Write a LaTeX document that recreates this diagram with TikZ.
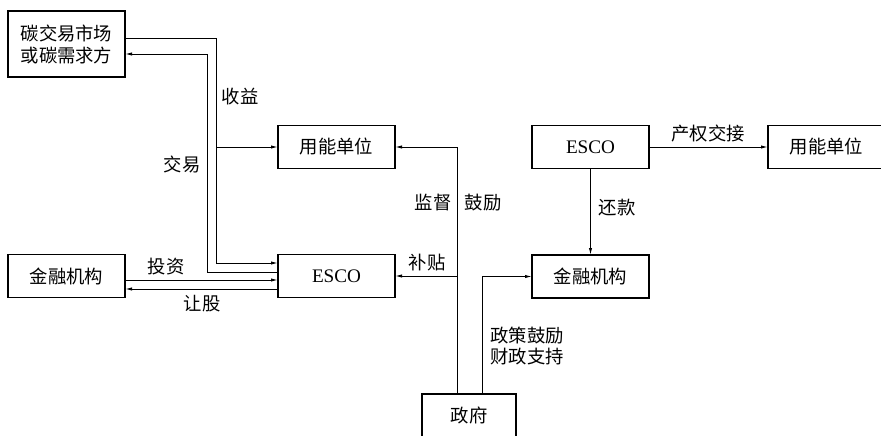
\documentclass[tikz,border=0pt]{standalone}
\usepackage{fontspec}
\setmainfont{Noto Sans CJK SC}
\newfontfamily\latinfont{Liberation Serif}
\usetikzlibrary{arrows.meta}
\tikzset{
  unit/.style={draw, line width=0.9pt, inner sep=0pt, outer sep=0pt,
    minimum width=70.2pt, minimum height=25.8pt, align=center,
    font=\fontsize{11}{13.2}\selectfont},
  flow/.style={line width=0.6pt, -{Latex[length=4.2pt,width=2pt]}},
  tag/.style={inner sep=0pt, font=\fontsize{11}{12.6}\selectfont}
}

\begin{document}
\begin{tikzpicture}[x=0.6pt, y=-0.6pt]
\useasboundingbox (0,0) rectangle (881,435);
% Boxes
    \node[unit, minimum height=39.6pt] (tan) at (66.5,44) {碳交易市场\\或碳需求方};
    \node[unit] (yongL) at (336.5,147) {用能单位};
    \node[unit] (escoL) at (336.5,276) {\latinfont\fontsize{11.5}{13}\selectfont ESCO};
    \node[unit] (jinL) at (66.5,276) {金融机构};
    \node[unit] (escoR) at (590.5,147) {\latinfont\fontsize{11.5}{13}\selectfont ESCO};
    \node[unit] (jinR) at (590.5,276.5) {金融机构};
    \node[unit] (yongR) at (826.5,147) {用能单位};
    \node[unit, minimum width=56.4pt] (zf) at (469,415.5) {政府};
% Carbon trade loop
    \coordinate (sy) at (216,0);
    \coordinate (jy) at (207,0);
    \coordinate (a1) at ([yshift=7.8pt]escoL.west);
    \coordinate (a2) at ([yshift=2.4pt]escoL.west);
    \coordinate (t1) at ([yshift=3.6pt]tan.east);
    \coordinate (t2) at ([yshift=-6pt]tan.east);
    \draw[flow] (t1) -| (sy |- a1) -- (a1);
    \draw[flow] (sy |- yongL.west) -- (yongL.west);
    \draw[flow] (a2) -| (jy |- t2) -- (t2);
% Investment
    \draw[flow] ([yshift=-2.4pt]jinL.east) -- ([yshift=-2.4pt]escoL.west);
    \draw[flow] ([yshift=-7.8pt]escoL.west) -- ([yshift=-7.8pt]jinL.east);
% Government
    \coordinate (g1) at ([xshift=-7.2pt]zf.north);
    \coordinate (g2) at ([xshift=7.8pt]zf.north);
    \draw[flow] (g1) |- (yongL.east);
    \draw[flow] (g1 |- escoL.east) -- (escoL.east);
    \draw[flow] (g2) |- (jinR.west);
% Right side
    \draw[flow] (escoR.south) -- (jinR.north);
    \draw[flow] (escoR.east) -- (yongR.west);
% Labels
    \node[tag] (shouyi) at (240,97) {收益};
    \node[tag] (jiaoyi) at (182,164) {交易};
    \node[tag] (touzi) at (166,267) {投资};
    \node[tag] (rangu) at (202,304) {让股};
    \node[tag] (butie) at (427,263) {补贴};
    \node[tag] (jiandu) at (433,203) {监督};
    \node[tag] (guli) at (483,203) {鼓励};
    \node[tag] (huankuan) at (617,208) {还款};
    \node[tag] (chanquan) at (708,134) {产权交接};
    \node[tag, align=left] (zhengce) at (527,346.5) {政策鼓励\\财政支持};
\end{tikzpicture}
\end{document}
